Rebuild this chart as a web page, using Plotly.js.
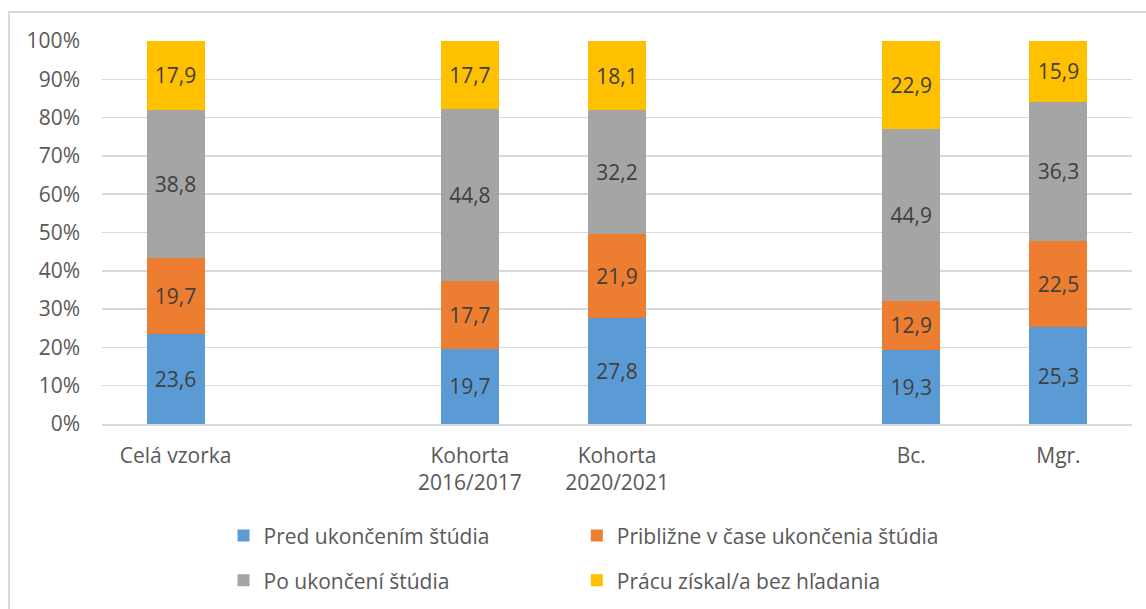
<!DOCTYPE html>
<html>
<head>
<meta charset="utf-8">
<script src="https://cdn.plot.ly/plotly-3.0.1.min.js"></script>
<style>
  html, body { margin: 0; padding: 0; background: #fff; width: 1146px; height: 609px; overflow: hidden; }
  #frame { position: absolute; left: 8px; top: 11px; width: 1138px; height: 640px;
           border-left: 2px solid #d9d9d9; border-top: 2px solid #d9d9d9; box-sizing: border-box; }
  #chart { position: absolute; left: 0; top: 0; width: 1136px; height: 636px; }
</style>
</head>
<body>
<div id="frame"><div id="chart"></div></div>
<script>
// Categories (blank entries are the empty gaps between groups)
const categories = ['Celá vzorka', ' ', 'Kohorta<br>2016/2017', 'Kohorta<br>2020/2021', '  ', 'Bc.', 'Mgr.'];

// Series values (%)
const predUkoncenim     = [23.6, null, 19.7, 27.8, null, 19.3, 25.3];
const priblizneVCase    = [19.7, null, 17.7, 21.9, null, 12.9, 22.5];
const poUkonceni        = [38.8, null, 44.8, 32.2, null, 44.9, 36.3];
const bezHladania       = [17.9, null, 17.7, 18.1, null, 22.9, 15.9];

const seriesNames = ['Pred ukončením štúdia', 'Približne v čase ukončenia štúdia', 'Po ukončení štúdia', 'Prácu získal/a bez hľadania'];
const seriesColors = ['#5B9BD5', '#ED7D31', '#A5A5A5', '#FFC000'];
const seriesValues = [predUkoncenim, priblizneVCase, poUkonceni, bezHladania];
const legendIds = ['legend', 'legend2', 'legend3', 'legend4'];

const yTickVals = [0, 10, 20, 30, 40, 50, 60, 70, 80, 90, 100];

const FONT = '"Open Sans", sans-serif';
const FS = 21;

const traces = seriesValues.map((vals, i) => ({
  type: 'bar',
  name: seriesNames[i],
  x: categories,
  y: vals,
  marker: { color: seriesColors[i], line: { width: 0 } },
  texttemplate: '%{y:.1f}',
  textposition: 'inside',
  insidetextanchor: 'middle',
  textangle: 0,
  textfont: { family: FONT, size: FS, color: '#404040' },
  hoverinfo: 'skip',
  legend: legendIds[i]
}));

const legendCommon = {
  orientation: 'h',
  traceorder: 'normal',
  xanchor: 'left',
  yanchor: 'middle',
  font: { family: FONT, size: FS, color: '#595959' },
  itemclick: false, itemdoubleclick: false,
  bgcolor: 'rgba(0,0,0,0)'
};
const col1 = 0.118, col2 = 0.461, row1 = -0.292, row2 = -0.409;

const layout = {
  width: 1136,
  height: 636,
  margin: { l: 92, r: 14, t: 28, b: 225 },
  paper_bgcolor: 'rgba(0,0,0,0)',
  plot_bgcolor: '#fff',
  separators: ',.',
  barmode: 'stack',
  bargap: 0.605,
  font: { family: FONT, size: FS, color: '#595959' },
  showlegend: true,
  xaxis: {
    type: 'category',
    categoryorder: 'array',
    categoryarray: categories,
    range: [-0.5, 6.5],
    showgrid: false,
    zeroline: false,
    showline: true,
    linecolor: '#d9d9d9',
    linewidth: 1.5,
    ticks: '',
    tickfont: { family: FONT, size: FS, color: '#595959' },
    ticklabelstandoff: 12,
    fixedrange: true
  },
  yaxis: {
    range: [0, 100],
    tickvals: yTickVals,
    ticktext: yTickVals.map(v => v + '%'),
    showgrid: true,
    gridcolor: '#d9d9d9',
    gridwidth: 1.5,
    zeroline: false,
    showline: false,
    ticks: '',
    ticklabelstandoff: 21,
    tickfont: { family: FONT, size: FS, color: '#595959' },
    fixedrange: true
  },
  legend:  Object.assign({}, legendCommon, { x: col1, y: row1 }),
  legend2: Object.assign({}, legendCommon, { x: col2, y: row1 }),
  legend3: Object.assign({}, legendCommon, { x: col1, y: row2 }),
  legend4: Object.assign({}, legendCommon, { x: col2, y: row2 })
};

Plotly.newPlot('chart', traces, layout, { displayModeBar: false, staticPlot: true });
</script>
</body>
</html>
